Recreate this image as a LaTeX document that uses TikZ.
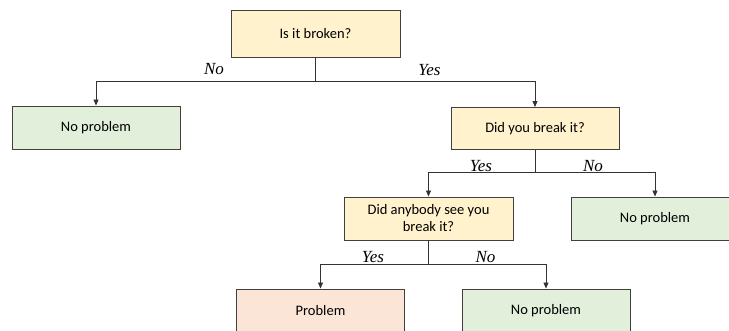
\documentclass[tikz,border=0pt]{standalone}
\usepackage{fontspec}
\setmainfont{Carlito}
\newfontfamily\labelfont{Liberation Serif}
\usetikzlibrary{arrows.meta}
\definecolor{qfill}{HTML}{FFF2CC}
\definecolor{okfill}{HTML}{E2EFDA}
\definecolor{badfill}{HTML}{FBE5D6}
\definecolor{edge}{HTML}{404040}
\begin{document}
\begin{tikzpicture}[x=1pt,y=-1pt,
  box/.style={draw=edge, line width=0.9pt, minimum width=168pt, minimum height=43pt,
    inner sep=2pt, align=center, font=\fontsize{14.5}{17}\selectfont},
  question/.style={box, fill=qfill},
  fine/.style={box, fill=okfill},
  trouble/.style={box, fill=badfill},
  link/.style={draw=black!80, line width=0.8pt},
  arrow/.style={link, -{Triangle[length=6pt,width=5pt]}},
  answer/.style={font=\labelfont\itshape\fontsize{17}{19}\selectfont, inner sep=0pt, anchor=base}]
\useasboundingbox (0,0) rectangle (729,331);
\begin{scope}
\clip (0,0) rectangle (729,331);
% decision boxes
\node[question, minimum width=169pt, minimum height=47pt] (broken) at (315.5,33.5) {Is it broken?};
\node[fine] (okA) at (96,127.5) {No problem};
\node[question, minimum height=42pt] (you) at (535,128.5) {Did you break it?};
\node[question, minimum width=169pt] (seen) at (428.5,218.5) {Did anybody see you\\break it?};
\node[fine] (okB) at (655,218.5) {No problem};
\node[trouble] (bad) at (320.5,310.5) {Problem};
\node[fine] (okC) at (546,310.5) {No problem};

% branch points
\coordinate (j1) at (broken.south |- 0,81);
\coordinate (j2) at (you.south |- 0,172.7);
\coordinate (j3) at (seen.south |- 0,264.3);

\draw[link] (broken.south) -- (j1);
\draw[arrow] (j1) -| (okA.north);
\draw[arrow] (j1) -| (you.north);
\draw[link] (you.south) -- (j2);
\draw[arrow] (j2) -| (seen.north);
\draw[arrow] (j2) -| (okB.north);
\draw[link] (seen.south) -- (j3);
\draw[arrow] (j3) -| (bad.north);
\draw[arrow] (j3) -| (okC.north);

% branch labels
\node[answer] (n1) at (214,75) {No};
\node[answer] (y1) at (429.5,75.5) {Yes};
\node[answer] (y2) at (481,171.5) {Yes};
\node[answer] (n2) at (593,171.5) {No};
\node[answer] (y3) at (373,262.5) {Yes};
\node[answer] (n3) at (485.5,262.5) {No};
\end{scope}
\end{tikzpicture}
\end{document}
